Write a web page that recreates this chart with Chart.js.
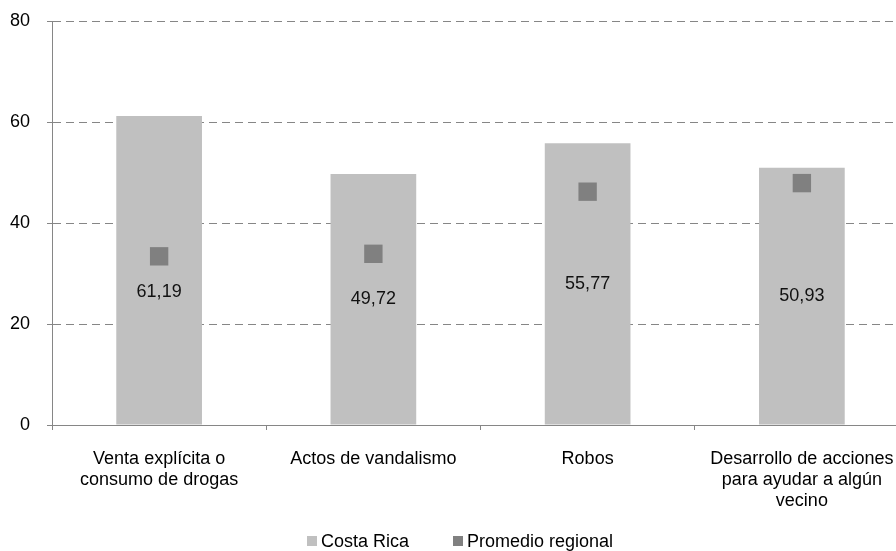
<!DOCTYPE html>
<html>
<head>
<meta charset="utf-8">
<script src="https://cdn.jsdelivr.net/npm/chart.js@4/dist/chart.umd.min.js"></script>
<style>
  html, body { margin: 0; padding: 0; background: #fff; }
  #wrap { position: relative; width: 896px; height: 551px; overflow: hidden; }
  #inner { width: 922px; height: 551px; }
  #legend { position: absolute; left: 307px; top: 530px; display: flex; align-items: center;
            font: 18px "Liberation Sans", Arial, sans-serif; color: #000; line-height: 22px; white-space: nowrap; }
  #legend .item { display: flex; align-items: center; margin-right: 44px; }
  #legend .box { width: 10px; height: 10px; margin-right: 4px; }
</style>
</head>
<body>
<div id="wrap">
  <div id="inner"><canvas id="chart" width="922" height="551" style="width:922px;height:551px"></canvas></div>
  <div id="legend"></div>
</div>
<script>
// categories (multi-line labels as in the original)
const categories = [
    ['Venta explícita o', 'consumo de drogas'],
    ['Actos de vandalismo'],
    ['Robos'],
    ['Desarrollo de acciones', 'para ayudar a algún', 'vecino']
];
const costaRica = [61.19, 49.72, 55.77, 50.93];
const promedioRegional = [33.4, 33.9, 46.2, 47.9];
const yTicks = [0, 20, 40, 60, 80];

const axisColor = '#868686';
const fontFamily = '"Liberation Sans", Arial, sans-serif';

// value labels inside the bars, moved below the marker when they would overlap it
const barLabels = {
    id: 'barLabels',
    afterDatasetsDraw(chart) {
        const ctx = chart.ctx;
        const y = chart.scales.y;
        const barMeta = chart.getDatasetMeta(0);
        const pointMeta = chart.getDatasetMeta(1);
        ctx.save();
        ctx.font = '18px ' + fontFamily;
        ctx.fillStyle = '#111';
        ctx.textAlign = 'center';
        ctx.textBaseline = 'middle';
        barMeta.data.forEach((bar, i) => {
            let ly = y.getPixelForValue(costaRica[i] / 2);
            const my = pointMeta.data[i].y;
            if (Math.abs(ly - my) < 24) ly = my + 36;
            ctx.fillText(costaRica[i].toFixed(2).replace('.', ','), bar.x, ly);
        });
        ctx.restore();
    }
};

Chart.defaults.font.family = fontFamily;
Chart.defaults.font.size = 18;
Chart.defaults.color = '#000';

const chart = new Chart(document.getElementById('chart'), {
    type: 'bar',
    data: {
        labels: categories,
        datasets: [{
            label: 'Costa Rica',
            data: costaRica,
            backgroundColor: '#c0c0c0',
            barPercentage: 0.4,
            categoryPercentage: 1,
            order: 1
        }, {
            type: 'line',
            label: 'Promedio regional',
            data: promedioRegional,
            showLine: false,
            backgroundColor: '#808080',
            borderColor: '#808080',
            pointStyle: 'rect',
            pointRadius: 13,
            pointHoverRadius: 13,
            pointBorderWidth: 0,
            order: 0
        }]
    },
    options: {
        responsive: false,
        animation: false,
        devicePixelRatio: 1,
        layout: { padding: { left: 0, right: 0, top: 21, bottom: 39 } },
        scales: {
            x: {
                grid: { drawOnChartArea: false, tickLength: 5, color: axisColor, offset: true },
                border: { color: axisColor, width: 1 },
                ticks: { padding: 19, font: { size: 18, lineHeight: 1.15 }, maxRotation: 0, autoSkip: false },
                afterFit(scale) {
                    scale.height = 87;
                    scale.paddingLeft = 0;
                    scale.paddingRight = 0;
                }
            },
            y: {
                min: 0,
                max: 80,
                afterBuildTicks(scale) { scale.ticks = yTicks.map(v => ({ value: v })); },
                grid: { color: axisColor, tickLength: 5, tickColor: axisColor, lineWidth: 1 },
                border: { color: axisColor, width: 1, dash: [8, 5] },
                ticks: { padding: 17 },
                afterFit(scale) {
                    scale.width = 52;
                    scale.paddingTop = 0;
                    scale.paddingBottom = 0;
                }
            }
        },
        plugins: {
            legend: { display: false },
            tooltip: { enabled: false }
        }
    },
    plugins: [barLabels]
});

// HTML legend built from the chart's datasets
const legendEl = document.getElementById('legend');
chart.data.datasets.forEach(ds => {
    const item = document.createElement('div');
    item.className = 'item';
    const box = document.createElement('span');
    box.className = 'box';
    box.style.background = ds.backgroundColor;
    const text = document.createElement('span');
    text.textContent = ds.label;
    item.appendChild(box);
    item.appendChild(text);
    legendEl.appendChild(item);
});
</script>
</body>
</html>
